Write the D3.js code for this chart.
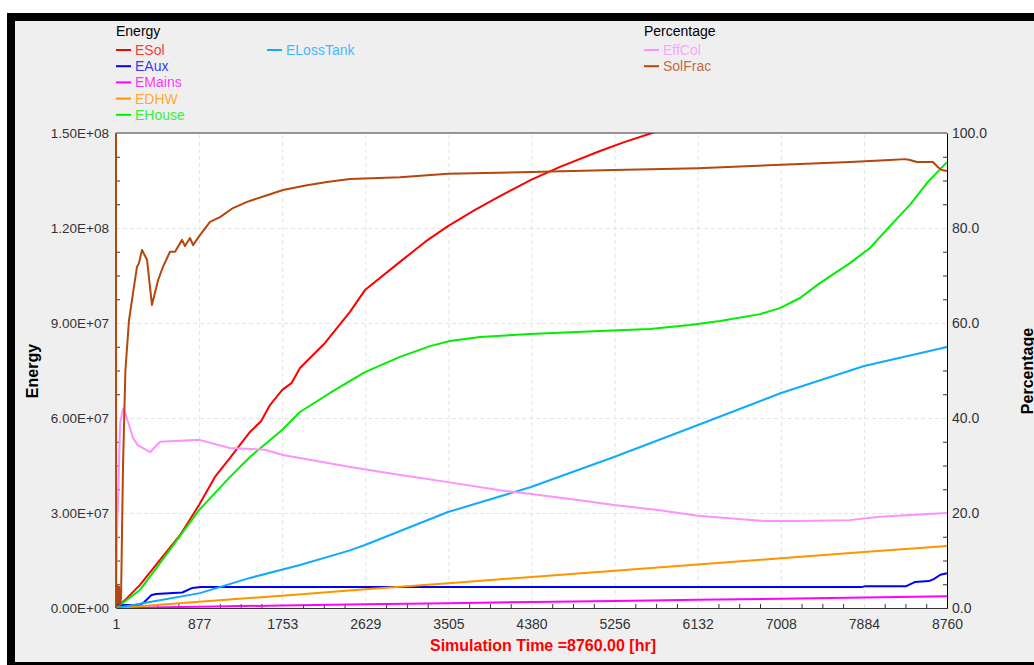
<!DOCTYPE html>
<html>
<head>
<meta charset="utf-8">
<script src="https://cdn.jsdelivr.net/npm/d3@7"></script>
<style>
  body { margin: 0; background: #fff; }
  text { font-family: "Liberation Sans", Arial, sans-serif; }
</style>
</head>
<body>
<svg width="1034" height="665"></svg>
<script>
// tick labels
var xTicks = [1, 877, 1753, 2629, 3505, 4380, 5256, 6132, 7008, 7884, 8760];
var energyTicks = [0, 3e7, 6e7, 9e7, 1.2e8, 1.5e8];
var percentTicks = [0, 20, 40, 60, 80, 100];

// energy series [hour, value]
var eSol = [[1,0],[96,2.5e6],[254,7.3e6],[465,1.52e7],[676,2.3e7],[876,3.25e7],[1044,4.14e7],[1203,4.74e7],
  [1413,5.56e7],[1530,5.9e7],[1624,6.41e7],[1751,6.88e7],[1850,7.1e7],[1940,7.58e7],[2204,8.37e7],[2467,9.35e7],[2625,1.004e8],
  [2994,1.093e8],[3258,1.156e8],[3500,1.206e8],[3785,1.257e8],[4048,1.301e8],[4375,1.352e8],[4681,1.393e8],
  [5102,1.443e8],[5366,1.472e8],[5651,1.50e8],[6000,1.53e8]];
var eAux = [[1,9.5e5],[250,9.5e5],[290,1.6e6],[370,4.0e6],[420,4.4e6],[700,4.9e6],[800,6.3e6],[900,6.6e6],
  [7860,6.6e6],[7900,6.9e6],[8330,6.9e6],[8420,8.2e6],[8570,8.5e6],[8620,9.1e6],[8690,1.05e7],[8760,1.1e7]];
var eMains = [[1,0],[877,4e5],[1753,8e5],[2629,1.2e6],[3505,1.5e6],[4380,1.9e6],[5256,2.2e6],[6132,2.6e6],
  [7008,2.9e6],[7884,3.3e6],[8760,3.7e6]];
var eDHW = [[1,0],[877,2.0e6],[1753,3.9e6],[2629,5.9e6],[3505,7.8e6],[4380,9.8e6],[5256,1.18e7],[6132,1.37e7],
  [7008,1.57e7],[7884,1.77e7],[8760,1.96e7]];
var eHouse = [[1,0],[254,5.7e6],[465,1.42e7],[876,3.09e7],[1203,4.14e7],[1413,4.77e7],[1751,5.62e7],[1940,6.19e7],
  [2256,6.79e7],[2625,7.45e7],[2994,7.93e7],[3310,8.27e7],[3521,8.43e7],[3837,8.56e7],[4364,8.65e7],[5102,8.75e7],
  [5629,8.81e7],[6050,8.94e7],[6367,9.06e7],[6788,9.28e7],[6999,9.47e7],[7210,9.79e7],[7420,1.026e8],[7737,1.089e8],
  [7948,1.137e8],[8190,1.216e8],[8369,1.273e8],[8548,1.342e8],[8760,1.408e8]];
var eLossTank = [[1,0],[359,1.9e6],[886,4.7e6],[1413,9.5e6],[1940,1.36e7],[2467,1.82e7],[2625,1.99e7],[3500,3.03e7],
  [4375,3.82e7],[5250,4.77e7],[6136,5.78e7],[7011,6.79e7],[7886,7.64e7],[8760,8.24e7]];

// percentage series [hour, %]
var effCol = [[1,0],[10,14],[45,39],[75,42],[100,41],[180,35.8],[230,34.3],[360,32.8],[465,35],[880,35.4],
  [1200,33.7],[1570,33.3],[1760,32.2],[1940,31.6],[2470,29.7],[3000,28],[3500,26.5],[4050,24.8],[4380,24],
  [4890,22.7],[5250,21.7],[5730,20.6],[6136,19.4],[6840,18.3],[7200,18.3],[7730,18.5],[8050,19.2],[8370,19.6],[8760,20]];
var solFrac = [[1,100],[2,0],[11,4.8],[22,1],[32,4.5],[43,0.5],[54,2],[75,30],[100,50],[138,60.6],[149,62],[180,66.3],
  [222,71.8],[243,72.6],[275,75.4],[328,73.3],[380,63.8],[444,69],[496,71.8],[570,75],[623,75],[697,77.5],[728,76.2],
  [781,77.9],[813,76.4],[886,78.5],[992,81.3],[1097,82.3],[1234,84.2],[1382,85.5],[1593,86.9],[1761,88],[2014,89],
  [2225,89.7],[2467,90.3],[2994,90.7],[3500,91.4],[4375,91.8],[5250,92.2],[6136,92.6],[7011,93.3],[7738,93.9],
  [7948,94.1],[8159,94.3],[8317,94.5],[8370,94.3],[8443,93.9],[8612,93.9],[8665,92.8],[8707,92.2],[8760,92]];

var energySeries = [
  {name: 'ESol', data: eSol, color: '#ff0000'},
  {name: 'EAux', data: eAux, color: '#0000ff'},
  {name: 'EMains', data: eMains, color: '#ff00ff'},
  {name: 'EDHW', data: eDHW, color: '#ff9400'},
  {name: 'EHouse', data: eHouse, color: '#00ee00'},
  {name: 'ELossTank', data: eLossTank, color: '#10aaff'}
];
var percentSeries = [
  {name: 'EffCol', data: effCol, color: '#ff90ff'},
  {name: 'SolFrac', data: solFrac, color: '#b5460c'}
];

var svg = d3.select('svg');
var pL = 116, pR = 947, pT = 133, pB = 608;

// frame and panel
svg.append('rect').attr('x', 7).attr('y', 13).attr('width', 1040).attr('height', 660).attr('fill', '#000');
svg.append('rect').attr('x', 15).attr('y', 21).attr('width', 1030).attr('height', 641).attr('fill', '#efefef');
svg.append('rect').attr('x', pL).attr('y', pT).attr('width', pR - pL).attr('height', pB - pT).attr('fill', '#fff');

var x = d3.scaleLinear().domain([1, 8760]).range([pL, pR]);
var yE = d3.scaleLinear().domain([0, 1.5e8]).range([pB, pT]);
var yP = d3.scaleLinear().domain([0, 100]).range([pB, pT]);

function sci(v) {
  var parts = v.toExponential(2).split('e');
  var e = +parts[1];
  var s = e < 0 ? '-' : '+';
  e = Math.abs(e);
  return parts[0] + 'E' + s + (e < 10 ? '0' + e : e);
}

// grid
svg.append('g')
  .attr('transform', 'translate(0,' + pB + ')')
  .call(d3.axisBottom(x).tickValues(xTicks.slice(1, -1)).tickSize(-(pB - pT)).tickFormat(''))
  .call(function (g) {
    g.select('.domain').remove();
    g.selectAll('line').attr('stroke', '#e2e2e2').attr('stroke-dasharray', '4,3');
  });
svg.append('g')
  .attr('transform', 'translate(' + pL + ',0)')
  .call(d3.axisLeft(yE).tickValues(energyTicks.slice(1, -1)).tickSize(-(pR - pL)).tickFormat(''))
  .call(function (g) {
    g.select('.domain').remove();
    g.selectAll('line').attr('stroke', '#e2e2e2').attr('stroke-dasharray', '4,3');
  });

// minor ticks
function minors(ticks, n) {
  var out = [];
  for (var i = 0; i < ticks.length - 1; i++) {
    for (var k = 1; k < n; k++) out.push(ticks[i] + (ticks[i + 1] - ticks[i]) * k / n);
  }
  return out;
}
svg.append('g')
  .attr('transform', 'translate(0,' + pB + ')')
  .call(d3.axisBottom(x).tickValues(minors(xTicks, 4)).tickSize(-4).tickFormat(''))
  .call(function (g) { g.select('.domain').remove(); g.selectAll('line').attr('stroke', '#333'); });
svg.append('g')
  .attr('transform', 'translate(' + pL + ',0)')
  .call(d3.axisLeft(yE).tickValues(minors(energyTicks, 4)).tickSize(-4).tickFormat(''))
  .call(function (g) { g.select('.domain').remove(); g.selectAll('line').attr('stroke', '#333'); });
svg.append('g')
  .attr('transform', 'translate(' + pR + ',0)')
  .call(d3.axisRight(yP).tickValues(minors(percentTicks, 4)).tickSize(-4).tickFormat(''))
  .call(function (g) { g.select('.domain').remove(); g.selectAll('line').attr('stroke', '#333'); });

// top border
svg.append('line').attr('x1', pL).attr('x2', pR).attr('y1', pT).attr('y2', pT).attr('stroke', '#333');

// axes
svg.append('g')
  .attr('transform', 'translate(0,' + pB + ')')
  .call(d3.axisBottom(x).tickValues(xTicks).tickSize(0).tickSizeOuter(0).tickPadding(11).tickFormat(d3.format('d')))
  .call(function (g) {
    g.select('.domain').attr('stroke', '#333');
    g.selectAll('text').attr('font-size', 14).attr('fill', '#333').attr('font-family', 'Liberation Sans, Arial, sans-serif');
  });
svg.append('g')
  .attr('transform', 'translate(' + pL + ',0)')
  .call(d3.axisLeft(yE).tickValues(energyTicks).tickSize(0).tickSizeOuter(0).tickPadding(7).tickFormat(sci))
  .call(function (g) {
    g.select('.domain').attr('stroke', '#333');
    g.selectAll('text').attr('font-size', 13.5).attr('fill', '#333').attr('font-family', 'Liberation Sans, Arial, sans-serif');
  });
svg.append('g')
  .attr('transform', 'translate(' + pR + ',0)')
  .call(d3.axisRight(yP).tickValues(percentTicks).tickSize(0).tickSizeOuter(0).tickPadding(5).tickFormat(d3.format('.1f')))
  .call(function (g) {
    g.select('.domain').attr('stroke', '#000');
    g.selectAll('text').attr('font-size', 14).attr('fill', '#333').attr('font-family', 'Liberation Sans, Arial, sans-serif');
  });

// lines
svg.append('clipPath').attr('id', 'plot')
  .append('rect').attr('x', pL - 1).attr('y', pT).attr('width', pR - pL + 2).attr('height', pB - pT);

var plot = svg.append('g').attr('clip-path', 'url(#plot)');
energySeries.forEach(function (s) {
  plot.append('path')
    .datum(s.data)
    .attr('fill', 'none')
    .attr('stroke', s.color)
    .attr('stroke-width', 2)
    .attr('stroke-linejoin', 'round')
    .attr('d', d3.line().x(function (d) { return x(d[0]); }).y(function (d) { return yE(d[1]); }));
});
percentSeries.forEach(function (s) {
  plot.append('path')
    .datum(s.data)
    .attr('fill', 'none')
    .attr('stroke', s.color)
    .attr('stroke-width', 2)
    .attr('stroke-linejoin', 'round')
    .attr('d', d3.line().x(function (d) { return x(d[0]); }).y(function (d) { return yP(d[1]); }));
});

// axis titles
svg.append('text').attr('transform', 'translate(38,371) rotate(-90)')
  .attr('text-anchor', 'middle').attr('font-size', 16).attr('font-weight', 'bold').text('Energy');
svg.append('text').attr('transform', 'translate(1033,371) rotate(-90)')
  .attr('text-anchor', 'middle').attr('font-size', 16).attr('font-weight', 'bold').text('Percentage');
svg.append('text').attr('x', 543).attr('y', 651)
  .attr('text-anchor', 'middle').attr('font-size', 16).attr('font-weight', 'bold').attr('fill', '#ff0000')
  .text('Simulation Time =8760.00 [hr]');

// legends
function legend(x0, title, items) {
  svg.append('text').attr('x', x0).attr('y', 36).attr('font-size', 14).attr('fill', '#000').text(title);
  items.forEach(function (s, i) {
    var col = Math.floor(i / 5), row = i % 5;
    var lx = x0 + col * 151, ly = 50 + row * 16.2;
    svg.append('line').attr('x1', lx).attr('x2', lx + 15).attr('y1', ly).attr('y2', ly)
      .attr('stroke', s.color).attr('stroke-width', 2);
    svg.append('text').attr('x', lx + 19).attr('y', ly + 5).attr('font-size', 14)
      .attr('fill', s.color).attr('fill-opacity', 0.8).text(s.name);
  });
}
legend(116, 'Energy', energySeries);
legend(644, 'Percentage', percentSeries);
</script>
</body>
</html>
